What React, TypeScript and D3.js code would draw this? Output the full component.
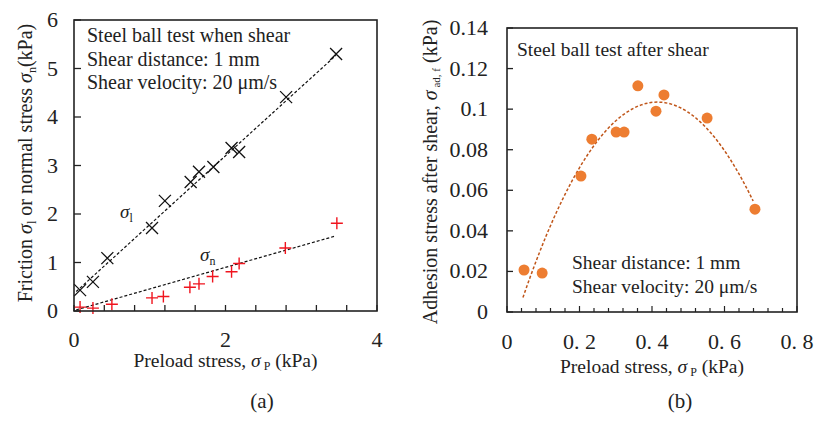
import React from "react";
import * as d3 from "d3";

// Panel (a) data
const frictionX = [0.08, 0.25, 0.44, 1.03, 1.2, 1.54, 1.65, 1.84, 2.08, 2.18, 2.8, 3.46];
const frictionY = [0.43, 0.6, 1.09, 1.71, 2.27, 2.66, 2.87, 2.97, 3.36, 3.28, 4.41, 5.3];
const normalX = [0.08, 0.25, 0.5, 1.03, 1.18, 1.53, 1.65, 1.83, 2.08, 2.18, 2.79, 3.47];
const normalY = [0.08, 0.06, 0.14, 0.27, 0.3, 0.49, 0.56, 0.71, 0.81, 0.98, 1.3, 1.81];
// linear fits: [slope, intercept, xStart, xEnd]
const frictionFit = [1.42, 0.36, 0.03, 3.46];
const normalFit = [0.445, 0.01, 0.03, 3.45];
const aYTicks = [0, 1, 2, 3, 4, 5, 6];
const aXLabels = [0, 2, 4];

// Panel (b) data
const adhesionX = [0.047, 0.097, 0.204, 0.234, 0.301, 0.323, 0.361, 0.411, 0.433, 0.552, 0.684];
const adhesionY = [0.0207, 0.0192, 0.067, 0.0852, 0.0887, 0.0887, 0.1115, 0.099, 0.107, 0.0956, 0.0507];
// quadratic fit c0 + c1 x + c2 x^2, domain
const adhesionFit = [-0.01706, 0.581, -0.7];
const adhesionFitDomain = [0.044, 0.679];
const bYTicks = [0, 0.02, 0.04, 0.06, 0.08, 0.1, 0.12, 0.14];
const bYLabels = ["0", "0.02", "0.04", "0.06", "0.08", "0.1", "0.12", "0.14"];
const bXTicks = [0, 0.2, 0.4, 0.6, 0.8];
const bXLabels = ["0", "0. 2", "0. 4", "0. 6", "0. 8"];

const FONT = "'Liberation Serif', 'Times New Roman', serif";

export default function App() {
  // panel a scales
  const ax = d3.scaleLinear().domain([0, 4]).range([74, 377]);
  const ay = d3.scaleLinear().domain([0, 6]).range([311, 20]);
  // panel b scales
  const bx = d3.scaleLinear().domain([0, 0.8]).range([507, 797]);
  const by = d3.scaleLinear().domain([0, 0.14]).range([312, 28]);

  const lineA = d3.line<number[]>().x((d) => ax(d[0])).y((d) => ay(d[1]));
  const fitLine = (f: number[]) =>
    lineA([
      [f[2], f[0] * f[2] + f[1]],
      [f[3], f[0] * f[3] + f[1]],
    ]);

  const curvePts: number[][] = d3
    .range(0, 61)
    .map((i) => adhesionFitDomain[0] + ((adhesionFitDomain[1] - adhesionFitDomain[0]) * i) / 60)
    .map((x) => [x, adhesionFit[0] + adhesionFit[1] * x + adhesionFit[2] * x * x]);
  const lineB = d3.line<number[]>().x((d) => bx(d[0])).y((d) => by(d[1]));

  const aMinor = d3.range(0, 4.0001, 0.4);
  const bMinor = d3.range(0, 0.80001, 0.04);

  return (
    <svg
      width={816}
      height={421}
      style={{ position: "absolute", left: 0, top: 0, background: "#fff" }}
      fontFamily={FONT}
    >
      <rect x={0} y={0} width={816} height={421} fill="#fff" />
      {/* ===== Panel (a) ===== */}
      <g>
        {aYTicks.map((t) => (
          <g key={"ay" + t}>
            <line x1={ax(0)} x2={ax(0) + 7} y1={ay(t)} y2={ay(t)} stroke="#222" strokeWidth={1.3} />
            <text x={58} y={ay(t) + 7} fontSize={22} textAnchor="end" fill="#222">
              {t}
            </text>
          </g>
        ))}
        {aMinor.map((t, i) => (
          <line key={"axm" + i} x1={ax(t)} x2={ax(t)} y1={ay(0)} y2={ay(0) - 6} stroke="#222" strokeWidth={1.3} />
        ))}
        {aXLabels.map((t) => (
          <text key={"axl" + t} x={ax(t)} y={347} fontSize={22} textAnchor="middle" fill="#222">
            {t}
          </text>
        ))}
        <path d={fitLine(frictionFit) || ""} stroke="#111" strokeWidth={1.2} strokeDasharray="3,2" fill="none" />
        <path d={fitLine(normalFit) || ""} stroke="#111" strokeWidth={1.2} strokeDasharray="3,2" fill="none" />
        {frictionX.map((x, i) => {
          const cx = ax(x);
          const cy = ay(frictionY[i]);
          const s = 6;
          return (
            <path
              key={"fx" + i}
              d={`M${cx - s},${cy - s}L${cx + s},${cy + s}M${cx - s},${cy + s}L${cx + s},${cy - s}`}
              stroke="#111"
              strokeWidth={1.3}
              fill="none"
            />
          );
        })}
        {normalX.map((x, i) => {
          const cx = ax(x);
          const cy = ay(normalY[i]);
          const s = 6;
          return (
            <path
              key={"nx" + i}
              d={`M${cx - s},${cy}L${cx + s},${cy}M${cx},${cy - s}L${cx},${cy + s}`}
              stroke="#f0141e"
              strokeWidth={1.4}
              fill="none"
            />
          );
        })}
        <rect x={ax(0)} y={ay(6)} width={ax(4) - ax(0)} height={ay(0) - ay(6)} fill="none" stroke="#222" strokeWidth={1.6} />
        <text x={120} y={218} fontSize={19} fill="#222">
          <tspan fontStyle="italic">σ</tspan>
          <tspan fontSize={12} dy={4}>l</tspan>
        </text>
        <text x={200} y={261} fontSize={19} fill="#222">
          <tspan fontStyle="italic">σ</tspan>
          <tspan fontSize={12} dy={4}>n</tspan>
        </text>
        <text x={87} y={42} fontSize={20} fill="#222">Steel ball test when shear</text>
        <text x={87} y={66} fontSize={20} fill="#222">Shear distance: 1 mm</text>
        <text x={87} y={89} fontSize={20} fill="#222">Shear velocity: 20 μm/s</text>
        <text x={ax(2)} y={367} fontSize={19.5} textAnchor="middle" fill="#222">
          Preload stress,{" "}
          <tspan fontStyle="italic">σ</tspan>
          <tspan fontSize={12} dy={3}> P</tspan>
          <tspan dy={-3}> (kPa)</tspan>
        </text>
        <text transform={`translate(32,163) rotate(-90)`} fontSize={20} textAnchor="middle" fill="#222">
          Friction <tspan fontStyle="italic">σ</tspan>
          <tspan fontSize={12} dy={4}>l</tspan>
          <tspan dy={-4}> or normal stress </tspan>
          <tspan fontStyle="italic">σ</tspan>
          <tspan fontSize={12} dy={4}>n</tspan>
          <tspan dy={-4}>(kPa)</tspan>
        </text>
        <text x={262} y={408} fontSize={21} textAnchor="middle" fill="#222">(a)</text>
      </g>

      {/* ===== Panel (b) ===== */}
      <g>
        {bYTicks.map((t, i) => (
          <g key={"by" + i}>
            <line x1={bx(0)} x2={bx(0) + 6} y1={by(t)} y2={by(t)} stroke="#222" strokeWidth={1.3} />
            <text x={488} y={by(t) + 7} fontSize={22} textAnchor="end" fill="#222">
              {bYLabels[i]}
            </text>
          </g>
        ))}
        {bMinor.map((t, i) => (
          <line
            key={"bxm" + i}
            x1={bx(t)}
            x2={bx(t)}
            y1={by(0)}
            y2={by(0) - (i % 5 === 0 ? 6 : 4)}
            stroke="#222"
            strokeWidth={1.2}
          />
        ))}
        {bXTicks.map((t, i) => (
          <text key={"bxl" + i} x={bx(t)} y={349} fontSize={22} textAnchor="middle" fill="#222">
            {bXLabels[i]}
          </text>
        ))}
        <path d={lineB(curvePts) || ""} stroke="#c0561a" strokeWidth={1.5} strokeDasharray="3,2" fill="none" />
        {adhesionX.map((x, i) => (
          <circle key={"ad" + i} cx={bx(x)} cy={by(adhesionY[i])} r={5.5} fill="#ed7d31" />
        ))}
        <rect x={bx(0)} y={by(0.14)} width={bx(0.8) - bx(0)} height={by(0) - by(0.14)} fill="none" stroke="#222" strokeWidth={1.6} />
        <text x={517} y={56} fontSize={19.5} fill="#222">Steel ball test after shear</text>
        <text x={572} y={269} fontSize={19.5} fill="#222">Shear distance: 1 mm</text>
        <text x={572} y={293} fontSize={19.5} fill="#222">Shear velocity: 20 μm/s</text>
        <text x={bx(0.4)} y={373} fontSize={19.5} textAnchor="middle" fill="#222">
          Preload stress,{" "}
          <tspan fontStyle="italic">σ</tspan>
          <tspan fontSize={12} dy={3}> P</tspan>
          <tspan dy={-3}> (kPa)</tspan>
        </text>
        <text transform={`translate(437,172) rotate(-90)`} fontSize={20} textAnchor="middle" fill="#222">
          Adhesion stress after shear,{"  "}
          <tspan fontStyle="italic">σ</tspan>
          <tspan fontSize={11} dy={3}> ad, f</tspan>
          <tspan dy={-3}> (kPa)</tspan>
        </text>
        <text x={680} y={408} fontSize={21} textAnchor="middle" fill="#222">(b)</text>
      </g>
    </svg>
  );
}
